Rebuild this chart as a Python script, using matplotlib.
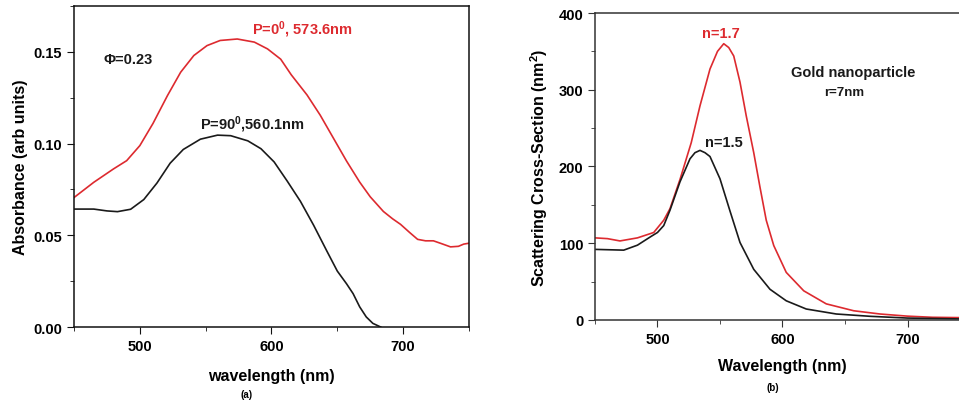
import matplotlib
matplotlib.use('Agg')
import matplotlib.pyplot as plt
from matplotlib.ticker import MultipleLocator
from matplotlib.transforms import IdentityTransform

plt.rcParams['font.family'] = ['Liberation Sans', 'DejaVu Sans']
plt.rcParams['font.weight'] = 'bold'
plt.rcParams['mathtext.fontset'] = 'custom'
plt.rcParams['mathtext.rm'] = 'Liberation Sans:bold'
plt.rcParams['mathtext.bf'] = 'Liberation Sans:bold'
plt.rcParams['mathtext.it'] = 'Liberation Sans:bold'

RED = '#dd2a2f'
BLACK = '#1a1a1a'

# ── (a) absorbance spectra ────────────────────────────────────────────────────
wl_p0 = [450, 465, 480, 490, 500, 510, 521, 531, 541, 551, 561, 574, 587, 597,
         607, 615, 627, 637, 647, 657, 667, 675, 685, 692, 698, 705, 711, 717,
         723, 729, 736, 742, 746, 750]
abs_p0 = [0.0706, 0.0789, 0.0862, 0.0907, 0.0989, 0.1110, 0.1262, 0.1389,
          0.1480, 0.1534, 0.1562, 0.1570, 0.1553, 0.1516, 0.1460, 0.1375,
          0.1265, 0.1155, 0.1030, 0.0905, 0.0790, 0.0710, 0.0630, 0.0590,
          0.0560, 0.0515, 0.0478, 0.0470, 0.0470, 0.0455, 0.0437, 0.0440,
          0.0452, 0.0457]

wl_p90 = [450, 465, 475, 483, 493, 503, 513, 523, 533, 546, 559, 569, 582, 592,
          602, 612, 622, 632, 642, 650, 657, 662, 667, 672, 677, 683]
abs_p90 = [0.0643, 0.0643, 0.0633, 0.0629, 0.0642, 0.0695, 0.0785, 0.0893,
           0.0968, 0.1024, 0.1046, 0.1043, 0.1015, 0.0972, 0.0900, 0.0795,
           0.0685, 0.0555, 0.0415, 0.0305, 0.0236, 0.0182, 0.0110, 0.0055,
           0.0020, 0.0]

# ── (b) scattering cross-section ──────────────────────────────────────────────
wl_n17 = [450, 460, 470, 484, 497, 505, 510, 518, 527, 534, 542, 548, 553, 557,
          561, 566, 571, 577, 582, 587, 593, 603, 617, 635, 657, 678, 700, 720, 745]
sig_n17 = [107, 106, 103, 107, 114, 130, 145, 183, 231, 279, 327, 350, 360, 355,
           344, 310, 266, 218, 173, 130, 97, 62, 38, 21, 12, 7.8, 5, 3.5, 3]

wl_n15 = [450, 473, 484, 495, 500, 505, 510, 518, 526, 530, 534, 538, 542, 550,
          558, 566, 577, 590, 603, 619, 643, 670, 700, 745]
sig_n15 = [92, 91, 97.5, 109, 114, 123, 143, 180, 210, 218, 221, 218, 213, 184,
           142, 101, 66, 40, 25, 14.3, 7.8, 4.8, 2.5, 1.3]

fig = plt.figure(figsize=(9.59, 4.06), dpi=100)
ax1 = fig.add_axes([0.0772, 0.192, 0.4118, 0.7908])
ax2 = fig.add_axes([0.6204, 0.2094, 0.3911, 0.7561])

ax1.plot(wl_p0, abs_p0, color=RED, linewidth=1.2)
ax1.plot(wl_p90, abs_p90, color=BLACK, linewidth=1.2)
ax1.set_xlim(450, 750)
ax1.set_ylim(0, 0.175)
ax1.xaxis.set_major_locator(MultipleLocator(100))
ax1.xaxis.set_minor_locator(MultipleLocator(50))
ax1.yaxis.set_major_locator(MultipleLocator(0.05))
ax1.yaxis.set_minor_locator(MultipleLocator(0.025))
ax1.yaxis.set_major_formatter(plt.FuncFormatter(lambda v, p: f'{v:.2f}'))
ax1.set_xlabel('wavelength (nm)', fontsize=11.5, fontweight='bold', labelpad=11)
ax1.set_ylabel('Absorbance (arb units)', fontsize=11.5, fontweight='bold', labelpad=4)

ax2.plot(wl_n17, sig_n17, color=RED, linewidth=1.2)
ax2.plot(wl_n15, sig_n15, color=BLACK, linewidth=1.2)
ax2.set_xlim(450, 750)
ax2.set_ylim(0, 400)
ax2.xaxis.set_major_locator(MultipleLocator(100))
ax2.xaxis.set_minor_locator(MultipleLocator(50))
ax2.yaxis.set_major_locator(MultipleLocator(100))
ax2.yaxis.set_minor_locator(MultipleLocator(50))
ax2.set_xlabel('Wavelength (nm)', fontsize=11.5, fontweight='bold', labelpad=9)
ax2.set_ylabel(r'Scattering Cross-Section (nm$^{2}$)', fontsize=11.5,
               fontweight='bold', labelpad=6)

# annotations placed in pixel coordinates (origin top-left converted)
H = 406
notes = [
    (352, 30, r'P=0$^{0}$, 573.6nm', RED, 10.5, 'right'),
    (104, 60, 'Φ=0.23', BLACK, 10.5, 'left'),
    (200, 125, r'P=90$^{0}$,560.1nm', BLACK, 10.5, 'left'),
    (721, 34, 'n=1.7', RED, 10.5, 'center'),
    (724, 143, 'n=1.5', BLACK, 10.5, 'center'),
    (853, 73, 'Gold nanoparticle', BLACK, 10.5, 'center'),
    (844, 93, 'r=7nm', BLACK, 9.5, 'center'),
]
for x, y, s, c, fs, ha in notes:
    fig.text(x, H - y, s, color=c, fontsize=fs, ha=ha, va='center',
             transform=IdentityTransform())

for ax, spc in ((ax1, '#111111'), (ax2, '#333333')):
    for s in ax.spines.values():
        s.set_color(spc)
        s.set_linewidth(1.1)
    ax.tick_params(which='both', direction='out', labelsize=10.5, color=spc)
    ax.tick_params(which='major', length=5)
    ax.tick_params(which='minor', length=3)
    for lab in ax.get_xticklabels() + ax.get_yticklabels():
        lab.set_fontweight('bold')

fig.text(247 / 959, 1 - 395 / H, '(a)', fontsize=7, ha='center', va='center')
fig.text(773 / 959, 1 - 388 / H, '(b)', fontsize=7, ha='center', va='center')

fig.savefig('out.png', dpi=100)
